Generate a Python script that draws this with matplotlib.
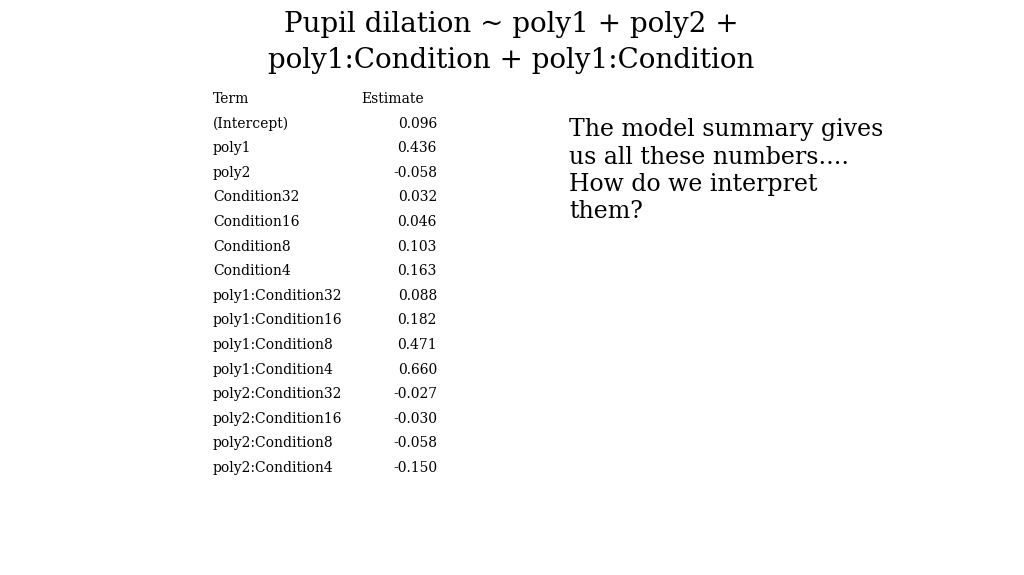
import matplotlib
matplotlib.use("Agg")
import matplotlib.pyplot as plt

terms = ["(Intercept)", "poly1", "poly2", "Condition32", "Condition16", "Condition8",
         "Condition4", "poly1:Condition32", "poly1:Condition16", "poly1:Condition8",
         "poly1:Condition4", "poly2:Condition32", "poly2:Condition16", "poly2:Condition8",
         "poly2:Condition4"]
estimates = [0.096, 0.436, -0.058, 0.032, 0.046, 0.103, 0.163, 0.088, 0.182, 0.471,
             0.660, -0.027, -0.030, -0.058, -0.150]

W, H = 1024, 575
fig = plt.figure(figsize=(W/100, H/100), dpi=100)
fam = ["Noto Serif", "DejaVu Serif", "Liberation Serif"]
plt.rcParams['font.family'] = ["DejaVu Serif"]

def px(x, y):
    return x / W, 1 - y / H

fig.text(*px(511, 24), "Pupil dilation ~ poly1 + poly2 +", ha="center", va="center", fontsize=20, family="DejaVu Serif")
fig.text(*px(511, 61), "poly1:Condition + poly1:Condition", ha="center", va="center", fontsize=20, family="DejaVu Serif")

fig.text(*px(213, 99), "Term", ha="left", va="center", fontsize=10)
fig.text(*px(361, 99), "Estimate", ha="left", va="center", fontsize=10)
step = (468 - 123.5) / 14
for i, (t, e) in enumerate(zip(terms, estimates)):
    y = 123.5 + i * step
    fig.text(*px(213, y), t, ha="left", va="center", fontsize=10)
    fig.text(*px(437, y), f"{e:.3f}", ha="right", va="center", fontsize=10)

fig.text(*px(569, 118), "The model summary gives\nus all these numbers....\nHow do we interpret\nthem?",
         ha="left", va="top", fontsize=17, linespacing=1.25)

fig.savefig("out.png", dpi=100)
